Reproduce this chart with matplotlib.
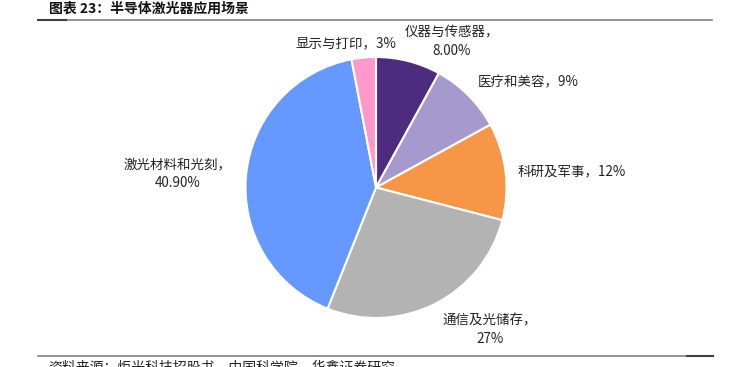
import matplotlib
matplotlib.use("Agg")
import matplotlib.pyplot as plt
from matplotlib.lines import Line2D

plt.rcParams['font.family'] = ['Noto Sans CJK SC', 'DejaVu Sans']

categories = ['仪器与传感器', '医疗和美容', '科研及军事', '通信及光储存', '激光材料和光刻', '显示与打印']
values = [8.00, 9, 12, 27, 40.90, 3]
value_labels = ['8.00%', '9%', '12%', '27%', '40.90%', '3%']
colors = ['#4D2C80', '#A699CD', '#F79646', '#B3B3B3', '#6699FF', '#FF99CC']

W, H = 741, 367
fig = plt.figure(figsize=(W / 100, H / 100), dpi=100)
ax = fig.add_axes([0, 0, 1, 1])
ax.set_xlim(0, W)
ax.set_ylim(0, H)
ax.set_aspect('equal')
ax.axis('off')

cx, cy, r = 376, H - 187.5, 130.5
ax.pie(values, colors=colors, startangle=90, counterclock=False,
       center=(cx, cy), radius=r,
       wedgeprops=dict(edgecolor='white', linewidth=1.5))
ax.set_xlim(0, W)
ax.set_ylim(0, H)

# label positions (pixel coords, y from top)
label_pos = [(452, 42, True), (528, 82, False), (572, 171, False),
             (490, 330, True), (178, 174, True), (346, 43, False)]
for cat, vl, (x, y, two) in zip(categories, value_labels, label_pos):
    txt = f'{cat}，\n{vl}' if two else f'{cat}，{vl}'
    ax.text(x, H - y, txt, ha='center', va='center', fontsize=9.7,
            color='#222222', linespacing=1.4)

# title
fig.text(49 / W, 1 - 9 / H, '图表 23：半导体激光器应用场景', ha='left', va='center',
         fontsize=10, fontweight='bold', color='#111111')
# top line
fig.add_artist(Line2D([38 / W, 712 / W], [1 - 19.5 / H, 1 - 19.5 / H],
                      color='#808080', linewidth=1.2))
fig.add_artist(Line2D([38 / W, 66 / W], [1 - 19.5 / H, 1 - 19.5 / H],
                      color='#404040', linewidth=1.5))
# bottom line
fig.add_artist(Line2D([38 / W, 713 / W], [1 - 356 / H, 1 - 356 / H],
                      color='#808080', linewidth=1.2))
fig.add_artist(Line2D([687 / W, 713 / W], [1 - 356 / H, 1 - 356 / H],
                      color='#404040', linewidth=1.5))
fig.text(48 / W, 1 - 367 / H, '资料来源：炬光科技招股书，中国科学院，华鑫证券研究',
         ha='left', va='center', fontsize=10, color='#222222')

fig.savefig('out.png', dpi=100)
